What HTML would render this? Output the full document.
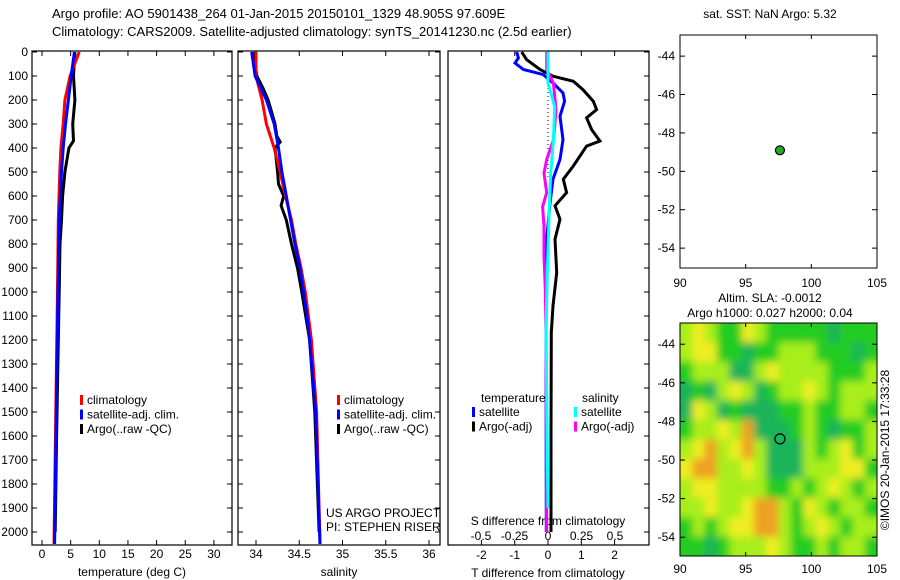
<!DOCTYPE html>
<html><head><meta charset="utf-8"><style>
body{margin:0;background:#fff;}
svg{display:block;font-family:"Liberation Sans",sans-serif;}
</style></head><body>
<svg id="c" width="900" height="580" viewBox="0 0 900 580"></svg>
<script>
// ---- data ----
const depthTicks=[0,100,200,300,400,500,600,700,800,900,1000,1100,1200,1300,1400,1500,1600,1700,1800,1900,2000];
const tempTicks=[0,5,10,15,20,25,30];
const salTicks=[34,34.5,35,35.5,36];
const tdTicks=[-2,-1,0,1,2];
const sdTicks=[-0.5,-0.25,0,0.25,0.5];
const tempClimD=[0,100,200,300,400,500,700,1000,1500,2050];
const tempClimV=[6.5,4.9,4.0,3.7,3.3,3.1,2.85,2.7,2.4,2.1];
const tempSatD=[0,100,200,300,400,500,700,1000,1500,2050];
const tempSatV=[5.65,5.1,4.6,4.1,3.7,3.4,3.0,2.8,2.5,2.2];
const tempArgoD=[0,100,200,300,370,400,500,600,700,800,1000,1200,1600,2000];
const tempArgoV=[5.75,5.5,5.75,5.35,5.5,4.7,4.0,3.6,3.4,3.15,3.0,2.85,2.55,2.3];
const salClimD=[0,100,200,300,400,500,600,700,800,900,1000,1200,1500,2050];
const salClimV=[34.0,34.0,34.07,34.12,34.21,34.28,34.34,34.41,34.46,34.52,34.57,34.64,34.70,34.74];
const salSatD=[0,100,200,300,400,500,600,700,800,900,1000,1100,1200,1500,2050];
const salSatV=[33.95,33.99,34.12,34.21,34.26,34.30,34.35,34.40,34.45,34.51,34.55,34.59,34.62,34.69,34.74];
const salArgoD=[0,100,150,200,250,300,350,375,400,500,550,600,640,700,800,900,1000,1200,1500,2000];
const salArgoV=[33.97,34.01,34.08,34.14,34.18,34.22,34.24,34.28,34.22,34.25,34.26,34.32,34.29,34.35,34.41,34.48,34.53,34.62,34.68,34.73];
const tdArgoD=[0,32,73,101,122,157,205,240,274,323,371,392,475,530,586,641,697,780,919,1058,1169,1600,2000];
const tdArgoV=[-0.79,-0.64,-0.24,0.15,0.76,1.05,1.36,1.46,1.16,1.31,1.56,1.16,0.76,0.46,0.56,0.21,0.36,0.21,0.26,0.15,0.1,0.09,0.09];
const tdSatD=[0,25,46,73,94,129,171,205,268,365,448,530,641,780,1169,2000];
const tdSatV=[-0.94,-0.89,-0.99,-0.74,-0.14,0.15,0.45,0.5,0.36,0.45,0.36,0.15,0.05,-0.04,-0.06,-0.05];
const sdSatD=[0,130,228,367,505,645,922,1169,1900];
const sdSatV=[0,0,0.05,0.04,0.02,0.01,-0.005,-0.015,0.0];
const sdArgoD=[0,73,129,240,310,367,448,505,586,645,725,850,989,1169,2000];
const sdArgoV=[-0.01,-0.01,0.04,0.06,0.05,0.04,-0.01,-0.03,-0.01,-0.04,-0.03,-0.03,-0.02,-0.015,-0.01];
const latTicks=[-44,-46,-48,-50,-52,-54];
const lonTicks=[90,95,100,105];
const argoLon=97.609, argoLat=-48.905;
const slaRows=[
"lylggylgggggdggg",
"lyyggdgglllgggdg",
"glllddlyllllgggl",
"dgdlyldgllylglll",
"dyldgdddgglggllg",
"gllylodddglgdggl",
"lyolyoldddlglygl",
"yoollyldddlllyyg",
"lyyllllgglglylgl",
"llyllyoolgylgllg",
"glglyyoolglylgll",
"ggdglllylgglgllg"];
const slaColors={d:"#1fb45a",g:"#22cc22",l:"#a8ee1c",y:"#eeee22",o:"#eea022"};

// ---- helpers ----
const NS="http://www.w3.org/2000/svg";
const svg=document.getElementById('c');
function mk(tag,attrs,parent){const e=document.createElementNS(NS,tag);for(const k in attrs)e.setAttribute(k,attrs[k]);(parent||svg).appendChild(e);return e;}
function txt(x,y,s,anchor,size,parent){const t=mk('text',{x:x,y:y,'font-size':size||12,'text-anchor':anchor||'start',fill:'#000'},parent);t.textContent=s;return t;}
const Y=d=>52+d*0.24;
const TOP=51,BOT=545;

function panel(x0,x1,name){
  const g=mk('g',{});
  
  
  mk('rect',{x:x0,y:TOP,width:x1-x0,height:BOT-TOP,fill:'none',stroke:'#000','stroke-width':1.2},g);
  return g;
}
function line(g,D,V,sx,color,name,w){
  const p=mk('polyline',{points:D.map((d,i)=>sx(V[i]).toFixed(1)+','+Y(d).toFixed(1)).join(' '),fill:'none',stroke:color,'stroke-width':w||3,'stroke-linejoin':'miter'},g);
  
  
}
function xticks(g,ticks,sx,labelY,fmt){
  ticks.forEach(t=>{const x=sx(t);
    mk('line',{x1:x,y1:TOP,x2:x,y2:TOP+5,stroke:'#000'},g);
    mk('line',{x1:x,y1:BOT,x2:x,y2:BOT-5,stroke:'#000'},g);
    if(labelY) txt(x,labelY,fmt?fmt(t):String(t),'middle',12,g);});
}
function legend(g,x,y,items){
  items.forEach((it,i)=>{
    const yy=y+i*14.5;
    const r=mk('rect',{x:x,y:yy-9,width:3,height:10,fill:it[0]},g);
    
    
    const t=txt(x+7,yy,it[1],'start',12,g);
    
    
  });
}

// titles
txt(52,18,'Argo profile: AO 5901438_264 01-Jan-2015 20150101_1329 48.905S 97.609E','start',13);
txt(52,36,'Climatology: CARS2009. Satellite-adjusted climatology: synTS_20141230.nc (2.5d earlier)','start',13);

// y ticks depth
depthTicks.forEach(d=>{txt(28,Y(d)+4,String(d),'end',12);});

// panel 1 temperature
const sT=v=>42+v*5.73;
const p1=panel(32,232,'temperature-panel');
depthTicks.forEach(d=>{mk('line',{x1:32,y1:Y(d),x2:37,y2:Y(d),stroke:'#000'},p1);mk('line',{x1:232,y1:Y(d),x2:227,y2:Y(d),stroke:'#000'},p1);});
xticks(p1,tempTicks,sT,558);
txt(132,576,'temperature (deg C)','middle',12,p1);
line(p1,tempArgoD,tempArgoV,sT,'#000','argo-temperature-line');
line(p1,tempClimD,tempClimV,sT,'#f00','climatology-temperature-line');
line(p1,tempSatD,tempSatV,sT,'#00f','satellite-temperature-line');
legend(p1,80,404,[['#f00','climatology'],['#00f','satellite-adj. clim.'],['#000','Argo(..raw -QC)']]);

// panel 2 salinity
const sS=v=>256+(v-34)*86.5;
const p2=panel(238,440,'salinity-panel');
depthTicks.forEach(d=>{mk('line',{x1:238,y1:Y(d),x2:243,y2:Y(d),stroke:'#000'},p2);mk('line',{x1:440,y1:Y(d),x2:435,y2:Y(d),stroke:'#000'},p2);});
xticks(p2,salTicks,sS,558);
txt(339,576,'salinity','middle',12,p2);
line(p2,salArgoD,salArgoV,sS,'#000','argo-salinity-line');
line(p2,salClimD,salClimV,sS,'#f00','climatology-salinity-line');
line(p2,salSatD,salSatV,sS,'#00f','satellite-salinity-line');
legend(p2,337,404,[['#f00','climatology'],['#00f','satellite-adj. clim.'],['#000','Argo(..raw -QC)']]);
txt(326,517,'US ARGO PROJECT','start',12,p2);
txt(326,531,'PI: STEPHEN RISER','start',12,p2);

// panel 3 differences
const sTD=v=>548+v*33.3;
const sSD=v=>548+v*134;
const p3=panel(448,649,'difference-panel');
depthTicks.forEach(d=>{mk('line',{x1:649,y1:Y(d),x2:644,y2:Y(d),stroke:'#000'},p3);});
xticks(p3,tdTicks,sTD,559);
sdTicks.forEach(t=>txt(sSD(t),540,String(t),'middle',12,p3));
txt(548,525,'S difference from climatology','middle',12,p3);
txt(548,577,'T difference from climatology','middle',12,p3);
mk('line',{x1:548,y1:Y(0),x2:548,y2:Y(520),stroke:'#000','stroke-dasharray':'1,3'},p3);
line(p3,tdArgoD,tdArgoV,sTD,'#000','argo-tdiff-line');
line(p3,tdSatD,tdSatV,sTD,'#00f','satellite-tdiff-line');
line(p3,sdArgoD,sdArgoV,sSD,'#f0f','argo-sdiff-line');
line(p3,sdSatD,sdSatV,sSD,'#0ff','satellite-sdiff-line');
txt(481,402,'temperature','start',12,p3);
txt(582,402,'salinity','start',12,p3);
legend(p3,472,416,[['#00f','satellite'],['#000','Argo(-adj)']]);
legend(p3,574,416,[['#0ff','satellite'],['#f0f','Argo(-adj)']]);

// maps
function mapAxes(g,x0,x1,yTop,lat0,pxDeg,bottom,labelY){
  const lx=v=>x0+(v-90)/15*(x1-x0);
  const ly=v=>yTop+(lat0-v)*pxDeg;
  mk('rect',{x:x0,y:yTop,width:x1-x0,height:bottom-yTop,fill:'none',stroke:'#000'},g);
  latTicks.forEach(l=>{mk('line',{x1:x0,y1:ly(l),x2:x0+5,y2:ly(l),stroke:'#000'},g);mk('line',{x1:x1,y1:ly(l),x2:x1-5,y2:ly(l),stroke:'#000'},g);txt(x0-5,ly(l)+4,String(l),'end',12,g);});
  lonTicks.forEach(l=>{mk('line',{x1:lx(l),y1:yTop,x2:lx(l),y2:yTop+4,stroke:'#000'},g);mk('line',{x1:lx(l),y1:bottom,x2:lx(l),y2:bottom-4,stroke:'#000'},g);txt(lx(l),labelY,String(l),'middle',12,g);});
  return [lx,ly];
}
const m1=mk('g',{});


txt(770,18,'sat. SST: NaN Argo: 5.32','middle',12,m1);
const [ax1,ay1]=mapAxes(m1,680,877,35,-42.9,19.2,268,287);
const d1=mk('circle',{cx:ax1(argoLon),cy:ay1(argoLat),r:4.5,fill:'#2a2',stroke:'#000','stroke-width':1.2},m1);



const m2=mk('g',{});


txt(770,302,'Altim. SLA: -0.0012','middle',12,m2);
txt(770,317,'Argo h1000: 0.027 h2000: 0.04','middle',12,m2);
const defs=mk('defs',{});
const f=mk('filter',{id:'bl',x:'-5%',y:'-5%',width:'110%',height:'110%'},defs);
mk('feGaussianBlur',{stdDeviation:4},f);
const cp=mk('clipPath',{id:'cp'},defs);
mk('rect',{x:680,y:323,width:197,height:233},cp);
const hg=mk('g',{'clip-path':'url(#cp)'},m2);
const hb=mk('g',{filter:'url(#bl)'},hg);
const cw=197/16, ch=233/12;
slaRows.forEach((row,r)=>{[...row].forEach((c,i)=>{
  const cell=mk('rect',{x:680+i*cw-(i==0?10:0),y:323+r*ch-(r==0?10:0),width:cw+1+(i==0||i==15?10:0),height:ch+1+(r==0||r==11?10:0),fill:slaColors[c]},hb);
  
  
});});
const [ax2,ay2]=mapAxes(m2,680,877,323,-42.9,19.3,556,573);
const d2=mk('circle',{cx:ax2(argoLon),cy:ay2(argoLat),r:5,fill:'none',stroke:'#000','stroke-width':1.2},m2);


const cr=txt(0,0,'©IMOS 20-Jan-2015 17:33:28','middle',12,m2);
cr.setAttribute('transform','translate(889,450) rotate(-90)');

</script>
</body></html>
